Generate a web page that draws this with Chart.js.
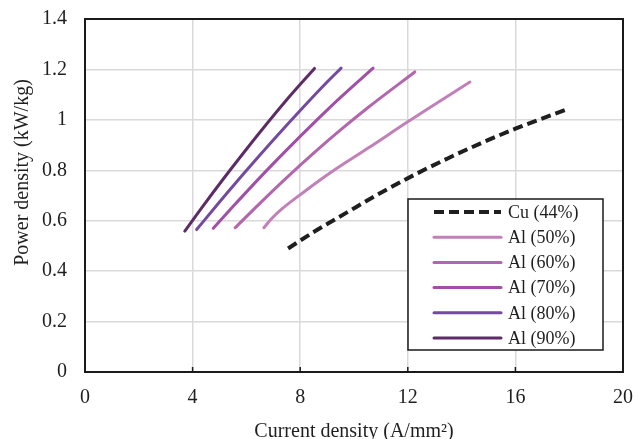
<!DOCTYPE html>
<html>
<head>
<meta charset="utf-8">
<script src="https://cdn.jsdelivr.net/npm/chart.js@4"></script>
<style>
  html, body { margin: 0; padding: 0; background: #fff; }
  #wrap { width: 635px; height: 439px; position: relative; }
</style>
</head>
<body>
<div id="wrap"><canvas id="chart"></canvas></div>
<script>
// values
const seriesNames = ['Cu (44%)', 'Al (50%)', 'Al (60%)', 'Al (70%)', 'Al (80%)', 'Al (90%)'];

const cu44_x = [7.55, 8.5, 9.74, 11.0, 12.3, 13.5, 14.71, 16.0, 17.88];
const cu44_y = [0.49, 0.555, 0.633, 0.711, 0.785, 0.848, 0.907, 0.965, 1.04];

const al50_x = [6.65, 6.95, 7.3, 8.15, 9.12, 10.6, 12.04, 14.31];
const al50_y = [0.572, 0.61, 0.645, 0.715, 0.79, 0.893, 0.995, 1.15];

const al60_x = [5.58, 6.5, 7.5, 8.5, 9.5, 10.5, 12.26];
const al60_y = [0.572, 0.669, 0.771, 0.868, 0.96, 1.047, 1.19];

const al70_x = [4.77, 5.5, 6.5, 7.5, 8.5, 9.5, 10.71];
const al70_y = [0.57, 0.656, 0.771, 0.881, 0.987, 1.089, 1.205];

const al80_x = [4.15, 5.0, 6.0, 7.0, 8.0, 9.0, 9.52];
const al80_y = [0.565, 0.674, 0.799, 0.92, 1.037, 1.15, 1.205];

const al90_x = [3.71, 4.4, 5.39, 6.51, 7.5, 8.53];
const al90_y = [0.559, 0.66, 0.8, 0.952, 1.08, 1.204];

const xTicks = [0, 4, 8, 12, 16, 20];
const yTicks = [0, 0.2, 0.4, 0.6, 0.8, 1, 1.2, 1.4];
const yTickLabels = ['0', '0.2', '0.4', '0.6', '0.8', '1', '1.2', '1.4'];

const colors = ['#1f1f1f', '#c280b9', '#b366ad', '#a150a7', '#7449a0', '#5d2c67'];

function pts(xs, ys) {
    return xs.map((x, i) => ({ x: x, y: ys[i] }));
}

const allX = [cu44_x, al50_x, al60_x, al70_x, al80_x, al90_x];
const allY = [cu44_y, al50_y, al60_y, al70_y, al80_y, al90_y];

const datasets = seriesNames.map((name, i) => ({
    label: name,
    data: pts(allX[i], allY[i]),
    borderColor: colors[i],
    borderWidth: i === 0 ? 4 : 3,
    borderDash: i === 0 ? [10, 5] : [],
    borderCapStyle: i === 0 ? 'butt' : 'round',
    showLine: true,
    fill: false,
    pointRadius: 0,
    cubicInterpolationMode: 'monotone',
}));

const FONT = "'Liberation Serif', 'Times New Roman', serif";

function noPad(s) {
    s.paddingTop = 0;
    s.paddingBottom = 0;
    s.paddingLeft = 0;
    s.paddingRight = 0;
}

// frame around the plot, little inside ticks, and the legend box
const framePlugin = {
    id: 'frame',
    afterLayout(chart) {
        // y title sits a bit above the middle of the axis in the original
        const s = chart.scales.y;
        if (s && !s._titleShifted) {
            const orig = s.drawTitle;
            s.drawTitle = function () {
                this.ctx.save();
                this.ctx.translate(0, -23);
                orig.apply(this, arguments);
                this.ctx.restore();
            };
            s._titleShifted = true;
        }
    },
    afterDraw(chart) {
        const c = chart.ctx;
        const a = chart.chartArea;
        const xs = chart.scales.x;
        c.save();
        c.strokeStyle = '#1a1a1a';
        c.lineWidth = 2;
        c.strokeRect(a.left, a.top, a.right - a.left, a.bottom - a.top);
        c.lineWidth = 1.5;
        xTicks.slice(1, -1).forEach(v => {
            const px = xs.getPixelForValue(v);
            c.beginPath();
            c.moveTo(px, a.bottom);
            c.lineTo(px, a.bottom - 5);
            c.stroke();
        });

        // legend
        const lx = 408, ly = 199, lw = 195, lh = 151;
        c.fillStyle = '#fff';
        c.fillRect(lx, ly, lw, lh);
        c.strokeStyle = '#1a1a1a';
        c.lineWidth = 1.5;
        c.strokeRect(lx, ly, lw, lh);
        c.font = '18px ' + FONT;
        c.textBaseline = 'middle';
        c.textAlign = 'left';
        chart.data.datasets.forEach((ds, i) => {
            const y = ly + 13 + i * 25.2;
            c.strokeStyle = ds.borderColor;
            c.lineWidth = ds.borderWidth;
            c.setLineDash(ds.borderDash);
            c.lineCap = ds.borderCapStyle;
            c.beginPath();
            c.moveTo(434, y);
            c.lineTo(501, y);
            c.stroke();
            c.setLineDash([]);
            c.fillStyle = '#1f1f1f';
            c.fillText(ds.label, 508, y + 1);
        });
        c.restore();
    }
};

const ctx = document.getElementById('chart').getContext('2d');

const chart = new Chart(ctx, {
    type: 'scatter',
    data: { datasets: datasets },
    options: {
        responsive: true,
        maintainAspectRatio: false,
        animation: false,
        layout: { padding: { top: 19, right: 12, bottom: 0, left: 0 } },
        plugins: {
            legend: { display: false },
            tooltip: { enabled: false },
        },
        scales: {
            x: {
                type: 'linear',
                min: 0,
                max: 20,
                afterBuildTicks: s => { s.ticks = xTicks.map(v => ({ value: v })); },
                afterFit: s => { s.height = 67; noPad(s); },
                grid: { color: '#d9d9d9', lineWidth: 1.5, drawTicks: false },
                border: { display: false },
                ticks: {
                    padding: 14,
                    color: '#1f1f1f',
                    font: { family: FONT, size: 20 },
                    maxRotation: 0,
                },
                title: {
                    display: true,
                    text: 'Current density (A/mm²)',
                    color: '#1f1f1f',
                    font: { family: FONT, size: 20, lineHeight: 1 },
                    padding: { top: 0, bottom: -3 },
                },
            },
            y: {
                type: 'linear',
                min: 0,
                max: 1.4,
                afterBuildTicks: s => { s.ticks = yTicks.map(v => ({ value: v })); },
                afterFit: s => { s.width = 85; noPad(s); },
                grid: { color: '#d9d9d9', lineWidth: 1.5, drawTicks: false },
                border: { display: false },
                ticks: {
                    padding: 18,
                    color: '#1f1f1f',
                    font: { family: FONT, size: 20 },
                    callback: (v, i) => yTickLabels[yTicks.indexOf(Math.round(v * 10) / 10)],
                },
                title: {
                    display: true,
                    text: 'Power density (kW/kg)',
                    color: '#1f1f1f',
                    font: { family: FONT, size: 20, lineHeight: 1 },
                    padding: { top: 13, bottom: 0 },
                },
            },
        },
    },
    plugins: [framePlugin],
});
</script>
</body>
</html>
